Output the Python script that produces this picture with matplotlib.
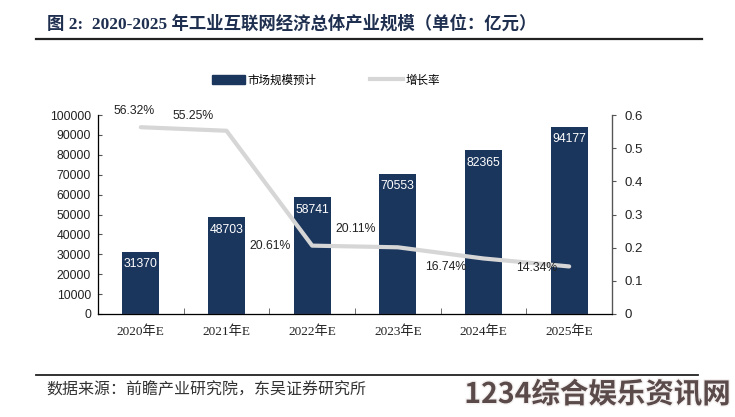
import matplotlib
matplotlib.use("Agg")
import matplotlib.pyplot as plt
import matplotlib.patheffects as pe
import numpy as np
from matplotlib.lines import Line2D
from matplotlib.patches import Patch

categories = ["2020年E", "2021年E", "2022年E", "2023年E", "2024年E", "2025年E"]
market_size = [31370, 48703, 58741, 70553, 82365, 94177]
growth_rate = [0.5632, 0.5525, 0.2061, 0.2011, 0.1674, 0.1434]
growth_labels = ["56.32%", "55.25%", "20.61%", "20.11%", "16.74%", "14.34%"]
left_ticks = [0, 10000, 20000, 30000, 40000, 50000, 60000, 70000, 80000, 90000, 100000]
right_ticks = [0, 0.1, 0.2, 0.3, 0.4, 0.5, 0.6]
right_tick_labels = ["0", "0.1", "0.2", "0.3", "0.4", "0.5", "0.6"]

title = "图 2:  2020-2025 年工业互联网经济总体产业规模（单位：亿元）"
source = "数据来源：前瞻产业研究院，东吴证券研究所"
watermark = "1234综合娱乐资讯网"

navy = "#1b365d"
grey_line = "#d6d6d6"
serif_cjk = ["Liberation Serif", "Noto Sans CJK SC"]
sans = ["Liberation Sans", "Noto Sans CJK SC"]

W, H = 735, 417
fig = plt.figure(figsize=(7.35, 4.17), dpi=100)
ax = fig.add_axes([98/W, 1-314/H, (612-98)/W, (314-115)/H])
x = np.arange(len(categories))
ax.bar(x, market_size, width=0.43, color=navy, zorder=2)
ax.set_xlim(-0.5, len(categories) - 0.5)
ax.set_ylim(0, 100000)
ax.set_yticks(left_ticks)
ax.set_yticklabels([str(t) for t in left_ticks], family=sans, fontsize=8.8, color="#222222")
ax.set_xticks(x)
ax.set_xticklabels(categories, family=serif_cjk, fontsize=9.5, color="#222222")
ax.set_xticks(np.arange(len(categories) + 1) - 0.5, minor=True)
ax.tick_params(axis="x", which="major", length=0, pad=8)
ax.tick_params(axis="x", which="minor", direction="in", length=4, color="#555555")
ax.tick_params(axis="y", direction="in", length=3, color="#555555", pad=5)
ax.spines["top"].set_visible(False)
for s in ["left", "bottom", "right"]:
    ax.spines[s].set_color("#555555")
    ax.spines[s].set_linewidth(0.9)

for xi, v in zip(x, market_size):
    ax.text(xi, v - 3300, str(v), ha="center", va="top", color="white",
            fontsize=8.8, family=sans, zorder=3)

ax2 = ax.twinx()
ax2.set_ylim(0, 0.6)
ax2.set_yticks(right_ticks)
ax2.set_yticklabels(right_tick_labels, family=sans, fontsize=9.5, color="#222222")
ax2.tick_params(axis="y", direction="out", length=3, color="#555555", pad=6)
ax2.spines["top"].set_visible(False)
ax2.spines["right"].set_color("#555555")
ax2.plot(x, growth_rate, color=grey_line, linewidth=3, solid_capstyle="round", zorder=4)

offsets = [(-0.08, 0.048), (-0.385, 0.045), (-0.49, 0.0), (-0.49, 0.056), (-0.44, -0.025), (-0.38, -0.004)]
for xi, yv, lab, (dx, dy) in zip(x, growth_rate, growth_labels, offsets):
    ax2.text(xi + dx, yv + dy, lab, ha="center", va="center", fontsize=8.8,
             family=sans, color="#222222", zorder=5)

handles = [Patch(facecolor=navy, edgecolor=navy),
           Line2D([0], [0], color=grey_line, linewidth=3)]
fig.legend(handles, ["市场规模预计", "增长率"], loc="center", bbox_to_anchor=(326/W, 1-80/H),
           ncol=2, frameon=False, prop={"family": "Noto Sans CJK SC", "size": 8.3},
           handlelength=2.9, handleheight=0.8, columnspacing=4.6, handletextpad=0.2,
           borderpad=0, borderaxespad=0)

fig.text(47/W, 1-24/H, title, fontsize=12.5, fontweight="bold", color="#1f2f4f",
         family=serif_cjk, va="center", ha="left")
fig.add_artist(Line2D([36/W, 702/W], [1-39/H, 1-39/H], color="#222222", linewidth=1.6))
fig.add_artist(Line2D([36/W, 698/W], [1-375/H, 1-375/H], color="#222222", linewidth=1.3))
fig.text(46/W, 1-390/H, source, fontsize=11.5, color="#333333",
         family=["Noto Sans CJK SC"], va="center", ha="left")
fig.text(731/W, 1-395/H, watermark, fontsize=20.5, fontweight="bold", color="#5a4a4a",
         family=["Noto Sans CJK SC"], va="center", ha="right",
         path_effects=[pe.withStroke(linewidth=2, foreground="#f4f0f0")])

fig.savefig("out.png", dpi=100)
